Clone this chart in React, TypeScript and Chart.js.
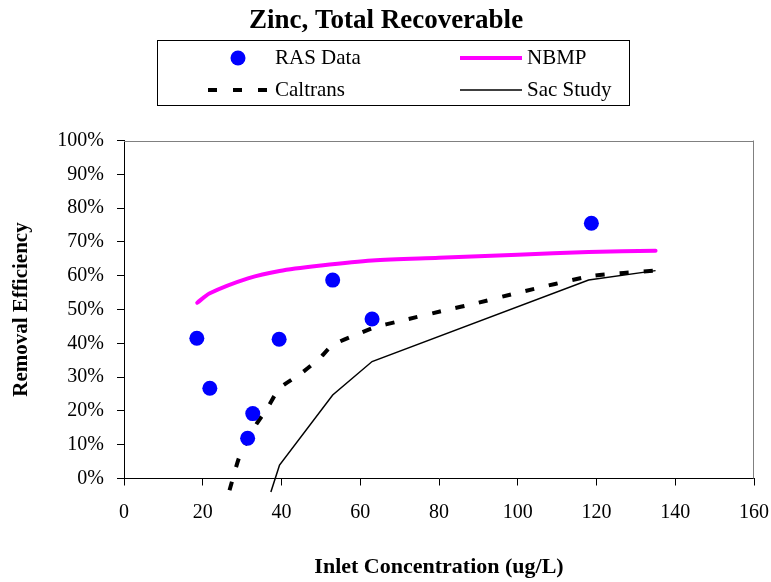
import React, { useEffect, useRef } from "react";
import { Chart, registerables } from "chart.js";

Chart.register(...registerables);

const TITLE = "Zinc, Total Recoverable";
const X_TITLE = "Inlet Concentration (ug/L)";
const Y_TITLE = "Removal Efficiency";

const rasX = [18.5, 21.8, 31.4, 32.7, 39.4, 53.0, 63.0, 118.7];
const rasY = [41.5, 26.7, 11.9, 19.2, 41.2, 58.7, 47.2, 75.5];

const nbmpX = [18.6, 21.8, 31.5, 39.5, 50, 63, 80, 100, 118, 135];
const nbmpY = [52, 54.8, 59.2, 61.4, 63.0, 64.5, 65.3, 66.2, 67.0, 67.4];

const caltransX = [26.8, 29.3, 33.2, 36.6, 39.5, 45, 49.7, 53, 58.9, 63.6, 69.5, 81.7, 89.3, 100.2, 118.8, 135];
const caltransY = [-3.5, 6.4, 15.3, 21.2, 26.7, 31.1, 35.6, 39.5, 42.5, 44.7, 46.4, 49.8, 51.8, 55, 59.9, 61.5];

const sacX = [37.3, 39.5, 53, 63, 118, 135];
const sacY = [-4, 4, 24.7, 34.6, 58.7, 61.5];

const FONT = "'Liberation Serif', 'Times New Roman', serif";

const pts = (xs: number[], ys: number[]) => xs.map((x, i) => ({ x, y: ys[i] }));

export default function App() {
  const ref = useRef<HTMLCanvasElement | null>(null);

  useEffect(() => {
    const canvas = ref.current;
    if (!canvas) return;

    const decor = {
      id: "decor",
      beforeDatasetsDraw(chart: any) {
        const { ctx, chartArea } = chart;
        const { left, right, top, bottom } = chartArea;
        ctx.save();
        ctx.strokeStyle = "#808080";
        ctx.lineWidth = 1;
        ctx.beginPath();
        ctx.moveTo(left, Math.round(top) + 0.5);
        ctx.lineTo(right, Math.round(top) + 0.5);
        ctx.moveTo(Math.round(right) - 0.5, top);
        ctx.lineTo(Math.round(right) - 0.5, bottom);
        ctx.stroke();
        ctx.restore();
      },
      afterDraw(chart: any) {
        const { ctx } = chart;
        ctx.save();
        // title
        ctx.fillStyle = "#000";
        ctx.font = `bold 27px ${FONT}`;
        ctx.textAlign = "center";
        ctx.textBaseline = "middle";
        ctx.fillText(TITLE, 386, 21);
        // legend box
        ctx.strokeStyle = "#000";
        ctx.lineWidth = 1;
        ctx.strokeRect(157.5, 40.5, 472, 65);
        ctx.font = `21px ${FONT}`;
        ctx.textAlign = "left";
        ctx.textBaseline = "middle";
        const r1 = 58;
        const r2 = 90;
        // RAS
        ctx.fillStyle = "#0000FF";
        ctx.beginPath();
        ctx.arc(238, r1, 7.5, 0, Math.PI * 2);
        ctx.fill();
        ctx.fillStyle = "#000";
        ctx.fillText(chart.data.datasets[0].label, 275, r1);
        // NBMP
        ctx.strokeStyle = "#FF00FF";
        ctx.lineWidth = 4;
        ctx.beginPath();
        ctx.moveTo(460, r1);
        ctx.lineTo(522, r1);
        ctx.stroke();
        ctx.fillText(chart.data.datasets[1].label, 527, r1);
        // Caltrans
        ctx.strokeStyle = "#000";
        ctx.lineWidth = 4;
        ctx.setLineDash([9, 16]);
        ctx.beginPath();
        ctx.moveTo(208, r2);
        ctx.lineTo(267, r2);
        ctx.stroke();
        ctx.setLineDash([]);
        ctx.fillText(chart.data.datasets[2].label, 275, r2);
        // Sac
        ctx.lineWidth = 1.5;
        ctx.beginPath();
        ctx.moveTo(460, r2);
        ctx.lineTo(522, r2);
        ctx.stroke();
        ctx.fillText(chart.data.datasets[3].label, 527, r2);
        ctx.restore();
      },
    };

    const chart = new Chart(canvas, {
      type: "scatter",
      data: {
        datasets: [
          {
            label: "RAS Data",
            data: pts(rasX, rasY),
            pointRadius: 7.5,
            pointHoverRadius: 7.5,
            pointBackgroundColor: "#0000FF",
            pointBorderWidth: 0,
            borderColor: "#0000FF",
            showLine: false,
          } as any,
          {
            label: "NBMP",
            data: pts(nbmpX, nbmpY),
            showLine: true,
            borderColor: "#FF00FF",
            borderWidth: 4,
            pointRadius: 0,
            tension: 0.3,
            borderCapStyle: "round",
          },
          {
            label: "Caltrans",
            data: pts(caltransX, caltransY),
            showLine: true,
            borderColor: "#000000",
            borderWidth: 4,
            borderDash: [9, 15],
            pointRadius: 0,
            tension: 0.2,
            clip: false,
          },
          {
            label: "Sac Study",
            data: pts(sacX, sacY),
            showLine: true,
            borderColor: "#000000",
            borderWidth: 1.5,
            pointRadius: 0,
            tension: 0,
            clip: false,
          },
        ],
      },
      options: {
        responsive: false,
        animation: false,
        layout: { padding: { left: 0, right: 17, top: 140.5, bottom: 0 } },
        plugins: {
          legend: { display: false },
          title: { display: false },
          tooltip: { enabled: false },
        },
        scales: {
          x: {
            type: "linear",
            min: 0,
            max: 160,
            afterFit: (s: any) => {
              s.height = 103.5;
              s.paddingLeft = 0;
              s.paddingRight = 0;
            },
            ticks: {
              stepSize: 20,
              color: "#000",
              font: { family: FONT, size: 20 },
              padding: 15,
            },
            grid: {
              drawOnChartArea: false,
              drawTicks: true,
              tickLength: 7,
              color: "#000",
            },
            border: { display: true, color: "#000", width: 1 },
            title: {
              display: true,
              text: X_TITLE,
              color: "#000",
              font: { family: FONT, size: 22, weight: "bold" },
              padding: { top: 0, bottom: 1 },
            },
          },
          y: {
            type: "linear",
            min: 0,
            max: 100,
            afterFit: (s: any) => {
              s.width = 124;
              s.paddingTop = 0;
              s.paddingBottom = 0;
            },
            ticks: {
              stepSize: 10,
              color: "#000",
              font: { family: FONT, size: 20 },
              padding: 13,
              callback: (v: any) => `${v}%`,
            },
            grid: {
              drawOnChartArea: false,
              drawTicks: true,
              tickLength: 7,
              color: "#000",
            },
            border: { display: true, color: "#000", width: 1 },
            title: {
              display: true,
              text: Y_TITLE,
              color: "#000",
              font: { family: FONT, size: 21, weight: "bold" },
              padding: { top: 9, bottom: 0 },
            },
          },
        },
      },
      plugins: [decor],
    });

    return () => chart.destroy();
  }, []);

  return (
    <div style={{ position: "fixed", left: 0, top: 0, width: 771, height: 582, background: "#fff" }}>
      <canvas ref={ref} width={771} height={582} style={{ display: "block" }} />
    </div>
  );
}
